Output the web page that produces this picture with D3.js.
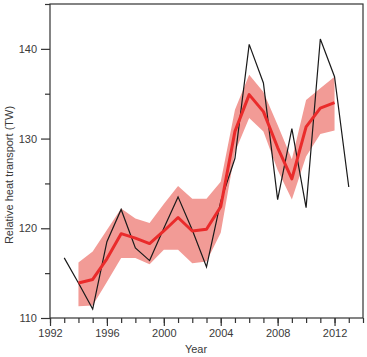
<!DOCTYPE html>
<html><head><meta charset="utf-8">
<script src="https://cdn.jsdelivr.net/npm/d3@7/dist/d3.min.js"></script>
<style>body{margin:0;background:#fff}svg{display:block}text{font-family:"Liberation Sans",Arial,sans-serif}</style>
</head><body>
<script>
const obsYears = [1993,1994,1995,1996,1997,1998,1999,2000,2001,2002,2003,2004,2005,2006,2007,2008,2009,2010,2011,2012,2013];
const obsValues = [116.7,113.9,111.0,118.5,122.1,117.8,116.4,120.0,123.5,119.8,115.7,123.0,127.8,140.5,136.2,123.2,131.1,122.3,141.1,136.9,124.6];
const meanYears = [1994,1995,1996,1997,1998,1999,2000,2001,2002,2003,2004,2005,2006,2007,2008,2009,2010,2011,2012];
const meanValues = [113.9,114.3,116.6,119.4,118.9,118.3,119.7,121.2,119.7,119.9,122.4,130.8,134.9,133.0,129.0,125.5,131.3,133.4,134.0];
const upperValues = [116.2,117.4,119.8,122.2,121.1,120.6,122.7,124.7,123.3,123.3,125.2,133.2,137.1,135.2,131.5,127.7,134.3,135.6,136.9];
const lowerValues = [111.3,111.4,114.0,116.7,116.7,116.0,117.6,117.6,116.1,116.3,119.5,128.5,132.3,130.8,126.5,123.2,128.0,130.5,130.9];
const xTicks = [1992,1996,2000,2004,2008,2012];
const yTicks = [110,120,130,140];

const W = 367, H = 357;
const m = {left:50, right:4, top:4, bottom:39};
const svg = d3.select("body").append("svg").attr("width",W).attr("height",H);
const x = d3.scaleLinear().domain([1992,2014]).range([m.left, W-m.right]);
const y = d3.scaleLinear().domain([110,145]).range([H-m.bottom, m.top]);
const axisColor = "#333";
const textColor = "#3a3a3a";

const band = meanYears.map((yr,i)=>({yr, lo:lowerValues[i], hi:upperValues[i]}));
svg.append("path").datum(band)
  .attr("d", d3.area().x(d=>x(d.yr)).y0(d=>y(d.lo)).y1(d=>y(d.hi)))
  .attr("fill","#f29b96");

svg.append("path").datum(obsYears.map((yr,i)=>[yr,obsValues[i]]))
  .attr("d", d3.line().x(d=>x(d[0])).y(d=>y(d[1])))
  .attr("fill","none").attr("stroke","#1a1a1a").attr("stroke-width",1.2);

svg.append("path").datum(meanYears.map((yr,i)=>[yr,meanValues[i]]))
  .attr("d", d3.line().x(d=>x(d[0])).y(d=>y(d[1])))
  .attr("fill","none").attr("stroke","#ea2b2b").attr("stroke-width",3).attr("stroke-linejoin","round");

svg.append("rect").attr("x",x(1992)).attr("y",y(145)).attr("width",x(2014)-x(1992)).attr("height",y(110)-y(145))
  .attr("fill","none").attr("stroke",axisColor).attr("stroke-width",1.2);

const xMinor = d3.range(1992,2015);
const gx = svg.append("g").attr("transform",`translate(0,${y(110)})`);
gx.call(d3.axisBottom(x).tickValues(xMinor).tickSize(5).tickFormat(""))
  .call(g=>g.select(".domain").remove());
gx.append("g").call(d3.axisBottom(x).tickValues(xTicks).tickSize(8).tickPadding(3).tickFormat(d3.format("d")))
  .call(g=>g.select(".domain").remove());
gx.selectAll("line").attr("stroke",axisColor).attr("stroke-width",1.2);
gx.selectAll("text").attr("fill",textColor).style("font-size","11px");

const yMinor = [115,125,135,145];
const gy = svg.append("g").attr("transform",`translate(${x(1992)},0)`);
gy.call(d3.axisLeft(y).tickValues(yMinor).tickSize(5).tickFormat(""))
  .call(g=>g.select(".domain").remove());
gy.append("g").call(d3.axisLeft(y).tickValues(yTicks).tickSize(9).tickPadding(4))
  .call(g=>g.select(".domain").remove());
gy.selectAll("line").attr("stroke",axisColor).attr("stroke-width",1.2);
gy.selectAll("text").attr("fill",textColor).style("font-size","11px");

svg.append("text").attr("x",196).attr("y",353).attr("text-anchor","middle")
  .attr("fill",textColor).style("font-size","11px").text("Year");
svg.append("text").attr("transform",`translate(13,175) rotate(-90)`).attr("text-anchor","middle")
  .attr("fill",textColor).style("font-size","11px").text("Relative heat transport (TW)");
</script>
</body></html>
